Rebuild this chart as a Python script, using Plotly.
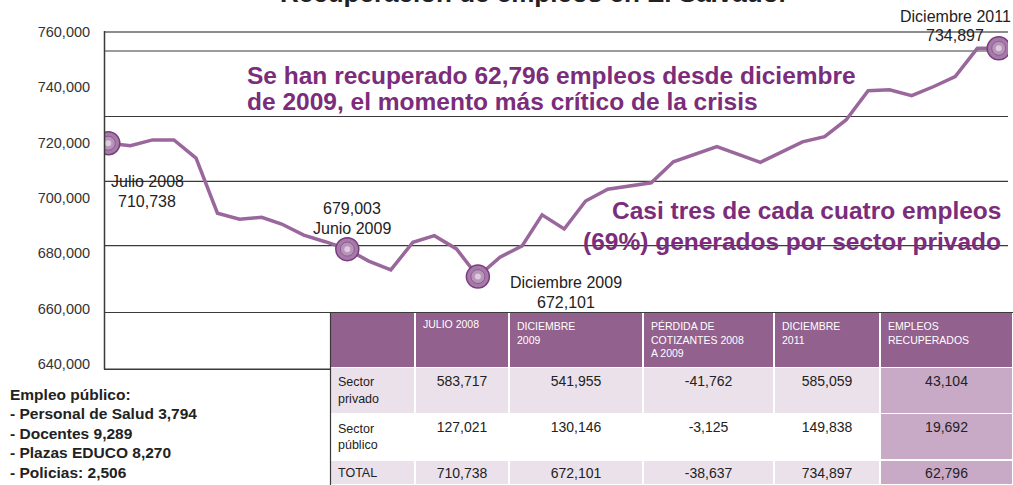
import plotly.graph_objects as go

# ---------------- data ----------------
dates = ["2008-07-01", "2008-08-01", "2008-09-01", "2008-10-01", "2008-11-01", "2008-12-01",
         "2009-01-01", "2009-02-01", "2009-03-01", "2009-04-01", "2009-05-01", "2009-06-01",
         "2009-07-01", "2009-08-01", "2009-09-01", "2009-10-01", "2009-11-01", "2009-12-01",
         "2010-01-01", "2010-02-01", "2010-03-01", "2010-04-01", "2010-05-01", "2010-06-01",
         "2010-08-01", "2010-09-01", "2010-11-01", "2011-01-01", "2011-03-01", "2011-04-01",
         "2011-05-01", "2011-06-01", "2011-07-01", "2011-08-01", "2011-09-01", "2011-10-01",
         "2011-11-01", "2011-12-01"]
empleos = [719800, 718900, 721000, 721000, 714400, 694500,
           692300, 693000, 690600, 686600, 684200, 681500,
           677200, 674000, 684000, 686400, 681600, 671600,
           678600, 682700, 693900, 688800, 698900, 703200,
           705500, 713100, 718600, 712900, 720300, 722200,
           728200, 738800, 739100, 737000, 740300, 743900,
           754100, 754100]
key_idx = [0, 11, 17, 37]

y_ticks = [640000, 660000, 680000, 700000, 720000, 740000, 760000]

table_rows = ["Sector<br>privado", "Sector<br>público", "TOTAL"]
table_header = ["", "JULIO 2008", "DICIEMBRE<br>2009", "PÉRDIDA DE<br>COTIZANTES 2008<br>A 2009",
                "DICIEMBRE<br>2011", "EMPLEOS<br>RECUPERADOS"]
jul_2008 = [583717, 127021, 710738]
dic_2009 = [541955, 130146, 672101]
perdida = [-41762, -3125, -38637]
dic_2011 = [585059, 149838, 734897]
recuperados = [43104, 19692, 62796]

empleo_publico = ["Empleo público:", "- Personal de Salud 3,794", "- Docentes 9,289",
                  "- Plazas EDUCO 8,270", "- Policias: 2,506"]

W, H = 1013, 485
def xp(px):
    return px / W
def yp(py):
    return 1 - py / H

FONT = "Liberation Sans, Arial, sans-serif"
PURPLE_TXT = "#7b2c7a"
LINE_C = "#9a679c"

fig = go.Figure()

fig.add_trace(go.Scatter(x=dates, y=empleos, mode="lines",
                         line=dict(color=LINE_C, width=3.5), hoverinfo="skip", showlegend=False))
kx = [dates[i] for i in key_idx]
ky = [empleos[i] for i in key_idx]
fig.add_trace(go.Scatter(x=kx, y=ky, mode="markers", showlegend=False, hoverinfo="skip",
                         marker=dict(size=23, color="#a47aa7", line=dict(color="#7b3a80", width=1.5))))
fig.add_trace(go.Scatter(x=kx, y=ky, mode="markers", showlegend=False, hoverinfo="skip",
                         marker=dict(size=14, color="#b893ba", line=dict(color="#8e5b92", width=1))))
fig.add_trace(go.Scatter(x=kx, y=ky, mode="markers", showlegend=False, hoverinfo="skip",
                         marker=dict(size=6, color="#dccadd", line=dict(width=0))))

fmt = lambda v: f"{v:,}"
fill_row = ["#ebe1ea", "#ffffff", "#ebe1ea"]
fig.add_trace(go.Table(
    domain=dict(x=[xp(330), 1], y=[0, yp(312)]),
    columnwidth=[85, 94, 134, 131, 106, 133],
    header=dict(values=table_header, fill_color="#93618e", line=dict(color="white", width=1.5),
                font=dict(family=FONT, size=10.5, color="white"), align="left", height=51),
    cells=dict(values=[table_rows, [fmt(v) for v in jul_2008], [fmt(v) for v in dic_2009],
                       [fmt(v) for v in perdida], [fmt(v) for v in dic_2011],
                       [fmt(v) for v in recuperados]],
               fill_color=[fill_row, fill_row, fill_row, fill_row, fill_row, ["#c8aac6"] * 3],
               line=dict(color="white", width=1.5),
               font=dict(family=FONT, size=[12.5, 14, 14, 14, 14, 14], color="#222222"),
               align=["left", "center", "center", "center", "center", "center"], height=36)
))

shapes = []
shapes.append(dict(type="line", xref="paper", yref="paper", x0=xp(104), x1=xp(1008), y0=yp(32), y1=yp(32),
                   line=dict(color="#8c8c8c", width=2), layer="below"))
for gy in [51, 116.5, 181.3, 245.7]:
    shapes.append(dict(type="line", xref="paper", yref="paper", x0=xp(104), x1=xp(1008), y0=yp(gy), y1=yp(gy),
                       line=dict(color="#3a3a3a", width=1.2), layer="below"))
shapes.append(dict(type="line", xref="paper", yref="paper", x0=xp(104), x1=1, y0=yp(312.5), y1=yp(312.5),
                   line=dict(color="#3a3a3a", width=1.2), layer="above"))
shapes.append(dict(type="line", xref="paper", yref="paper", x0=xp(104.5), x1=xp(104.5), y0=yp(31), y1=yp(369.5),
                   line=dict(color="#3a3a3a", width=1.5), layer="above"))
shapes.append(dict(type="line", xref="paper", yref="paper", x0=xp(104), x1=xp(331), y0=yp(369.3), y1=yp(369.3),
                   line=dict(color="#3a3a3a", width=1.5), layer="above"))
shapes.append(dict(type="line", xref="paper", yref="paper", x0=xp(330.5), x1=xp(330.5), y0=yp(312), y1=0,
                   line=dict(color="#3a3a3a", width=1.2), layer="above"))

ann = []
def T(text, px, py, size=16, color="#222222", bold=False, xanchor="center", align="center"):
    ann.append(dict(text=f"<b>{text}</b>" if bold else text, x=xp(px), y=yp(py), xref="paper", yref="paper",
                    xanchor=xanchor, yanchor="middle", showarrow=False, align=align,
                    font=dict(family=FONT, size=size, color=color)))

T("Recuperación de empleos en El Salvador", 534, -7, size=26, bold=True)
T("Se han recuperado 62,796 empleos desde diciembre", 245, 75, size=24.5, color=PURPLE_TXT, bold=True, xanchor="left")
T("de 2009, el momento más crítico de la crisis", 245, 101, size=24.5, color=PURPLE_TXT, bold=True, xanchor="left")
T("Casi tres de cada cuatro empleos", 1003, 210, size=24.5, color=PURPLE_TXT, bold=True, xanchor="right")
T("(69%) generados por sector privado", 1003, 241, size=24.5, color=PURPLE_TXT, bold=True, xanchor="right")

T("Julio 2008", 147, 181)
T(fmt(jul_2008[2]), 147, 201)
T(fmt(679003), 352, 208)
T("Junio 2009", 352, 228)
T("Diciembre 2009", 566, 282)
T(fmt(dic_2009[2]), 566, 302)
T("Diciembre 2011", 955, 17)
T(fmt(dic_2011[2]), 955, 36)

for i, line in enumerate(empleo_publico):
    T(line, 8, 394 + i * 19.5, size=15.5, bold=True, xanchor="left", align="left")

fig.update_layout(
    width=W, height=H, margin=dict(l=0, r=0, t=0, b=0, autoexpand=False),
    paper_bgcolor="white", plot_bgcolor="white",
    xaxis=dict(domain=[xp(104), xp(1008)], type="date", range=["2008-06-25", "2011-12-14"],
               visible=False, showgrid=False, zeroline=False, automargin=False),
    yaxis=dict(domain=[yp(364), yp(32)], range=[640000, 760000], tickvals=y_ticks,
               tickformat=",d", showgrid=False, zeroline=False, showline=False, automargin=False,
               ticks="outside", ticklen=10, tickcolor="rgba(0,0,0,0)",
               tickfont=dict(family=FONT, size=14.5, color="#333333")),
    shapes=shapes, annotations=ann,
)

fig.write_html("out.html", config={"displayModeBar": False},
               post_script="document.body.style.margin='0px';document.body.style.overflow='hidden';")
